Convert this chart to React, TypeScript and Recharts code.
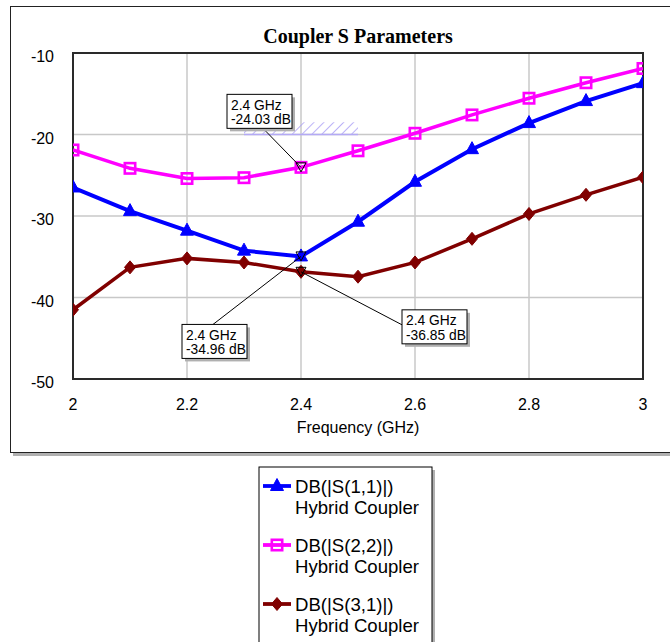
import React from 'react';
import {
  LineChart,
  Line,
  XAxis,
  YAxis,
  CartesianGrid,
  ReferenceArea,
  ReferenceDot,
  ReferenceLine,
} from 'recharts';

// Frequency sweep (GHz)
const frequencies = [2.0, 2.1, 2.2, 2.3, 2.4, 2.5, 2.6, 2.7, 2.8, 2.9, 3.0];

// Magnitudes in dB
const s11 = [-26.5, -29.4, -31.8, -34.25, -34.96, -30.7, -25.8, -21.8, -18.6, -15.9, -13.7];
const s22 = [-21.9, -24.15, -25.4, -25.3, -24.03, -22.0, -19.85, -17.6, -15.55, -13.65, -11.9];
const s31 = [-41.5, -36.3, -35.2, -35.7, -36.85, -37.45, -35.7, -32.8, -29.75, -27.4, -25.25];

const xTicks = [2, 2.2, 2.4, 2.6, 2.8, 3];
const yTicks = [-50, -40, -30, -20, -10];

// Marker readouts at 2.4 GHz
const markerFreq = 2.4;
const markerS22 = -24.03;
const markerS11 = -34.96;
const markerS31 = -36.85;

// Return-loss goal mask
const maskStart = 2.3;
const maskEnd = 2.5;
const maskLevel = -20;
const maskTop = -18.5;

const FONT = '"Liberation Sans", Arial, Helvetica, sans-serif';
const SERIF = '"Liberation Serif", "Times New Roman", serif';

const data = frequencies.map((f, i) => ({ freq: f, s11: s11[i], s22: s22[i], s31: s31[i] }));

type Shape = 'triangle' | 'square' | 'diamond';

const series: { key: string; name: string; sub: string; color: string; shape: Shape; width: number }[] = [
  { key: 's11', name: 'DB(|S(1,1)|)', sub: 'Hybrid Coupler', color: '#0000ff', shape: 'triangle', width: 4 },
  { key: 's22', name: 'DB(|S(2,2)|)', sub: 'Hybrid Coupler', color: '#ff00ff', shape: 'square', width: 3.5 },
  { key: 's31', name: 'DB(|S(3,1)|)', sub: 'Hybrid Coupler', color: '#800000', shape: 'diamond', width: 3.5 },
];

function markerPath(shape: Shape, cx: number, cy: number, color: string, key?: React.Key) {
  if (shape === 'triangle') {
    return (
      <path key={key} d={`M${cx},${cy - 7.5} L${cx + 6.5},${cy + 4.5} L${cx - 6.5},${cy + 4.5} Z`} fill={color} stroke={color} strokeWidth={1} />
    );
  }
  if (shape === 'square') {
    return <rect key={key} x={cx - 5.2} y={cy - 5.2} width={10.4} height={10.4} fill="none" stroke={color} strokeWidth={2.6} />;
  }
  return (
    <path key={key} d={`M${cx},${cy - 6.5} L${cx + 5.5},${cy} L${cx},${cy + 6.5} L${cx - 5.5},${cy} Z`} fill={color} stroke={color} strokeWidth={1} />
  );
}

const makeDot = (shape: Shape, color: string) => (p: any) => {
  if (p.cx == null || p.cy == null) return <g key={`e-${p.index}`} />;
  return markerPath(shape, p.cx, p.cy, color, `d-${p.index}`);
};

const fmtFreq = (v: number) => String(Math.round(v * 10) / 10);

const XTick = (p: any) => (
  <text x={p.x} y={p.y + 31} textAnchor="middle" fontSize={16} fontFamily={FONT} fill="#000">
    {fmtFreq(p.payload.value)}
  </text>
);

const YTick = (p: any) => (
  <text x={p.x - 19} y={p.y + 9} textAnchor="end" fontSize={16} fontFamily={FONT} fill="#000">
    {p.payload.value}
  </text>
);

type Anchor = 'bottom' | 'top' | 'left';

const makeCallout = (freq: number, value: number, dx: number, dy: number, anchor: Anchor, anchorOffset: number) => (p: any) => {
  const { cx, cy } = p;
  if (cx == null || cy == null) return <g />;
  const bw = 65;
  const bh = 34;
  const bx = cx + dx;
  const by = cy + dy;
  let ax = bx + anchorOffset;
  let ay = by + bh;
  if (anchor === 'top') {
    ay = by;
  } else if (anchor === 'left') {
    ax = bx;
    ay = by + anchorOffset;
  }
  return (
    <g>
      <line x1={ax} y1={ay} x2={cx} y2={cy} stroke="#000" strokeWidth={1} />
      <path d={`M${cx - 5},${cy - 4.5} L${cx + 5},${cy - 4.5} L${cx},${cy + 4.5} Z`} fill="none" stroke="#000" strokeWidth={1} />
      <rect x={bx + 3} y={by + 3} width={bw} height={bh} fill="#b0b0b0" />
      <rect x={bx} y={by} width={bw} height={bh} fill="#fff" stroke="#000" strokeWidth={1} />
      <text x={bx + 4} y={by + 15.5} fontSize={13.8} fontFamily={FONT} fill="#000">
        {`${freq} GHz`}
      </text>
      <text x={bx + 4} y={by + 30} fontSize={13.8} fontFamily={FONT} fill="#000">
        {`${value.toFixed(2)} dB`}
      </text>
    </g>
  );
};

export default function App() {
  return (
    <div
      style={{
        position: 'absolute',
        left: 0,
        top: 0,
        width: 670,
        height: 642,
        overflow: 'hidden',
        background: '#fff',
        fontFamily: FONT,
      }}
    >
      <svg width={0} height={0} style={{ position: 'absolute' }}>
        <defs>
          <pattern id="maskHatch" patternUnits="userSpaceOnUse" width={7} height={7} patternTransform="rotate(45)">
            <line x1={0} y1={0} x2={0} y2={7} stroke="#a99ef5" strokeWidth={1.6} />
          </pattern>
        </defs>
      </svg>

      {/* graph frame */}
      <div
        style={{
          position: 'absolute',
          left: 10,
          top: 6,
          width: 700,
          height: 445,
          border: '1.5px solid #222',
          boxShadow: '3px 3px 0 #b0b0b0',
          background: '#fff',
        }}
      />

      <div style={{ position: 'absolute', left: 0, top: 0 }}>
        <LineChart width={670} height={460} data={data} margin={{ top: 53, right: 27, bottom: 51, left: 0 }}>
          <CartesianGrid stroke="#c8c8c8" strokeWidth={1.5} />
          <XAxis
            dataKey="freq"
            type="number"
            domain={[2, 3]}
            ticks={xTicks}
            interval={0}
            allowDataOverflow
            axisLine={false}
            tickLine={false}
            tickSize={0}
            tickMargin={0}
            height={30}
            tick={XTick}
          />
          <YAxis
            type="number"
            domain={[-50, -10]}
            ticks={yTicks}
            interval={0}
            allowDataOverflow
            axisLine={false}
            tickLine={false}
            tickSize={0}
            tickMargin={0}
            width={73}
            tick={YTick}
          />
          <ReferenceArea x1={maskStart} x2={maskEnd} y1={maskLevel} y2={maskTop} fill="url(#maskHatch)" fillOpacity={1} stroke="none" />
          <ReferenceLine
            segment={[
              { x: maskStart, y: maskLevel },
              { x: maskEnd, y: maskLevel },
            ]}
            stroke="#b4aaf5"
            strokeWidth={1.5}
          />
          {series.map((s) => (
            <Line
              key={s.key}
              dataKey={s.key}
              name={s.name}
              type="linear"
              stroke={s.color}
              strokeWidth={s.width}
              dot={makeDot(s.shape, s.color)}
              activeDot={false}
              isAnimationActive={false}
            />
          ))}
          <ReferenceArea x1={2} x2={3} y1={-50} y2={-10} fill="none" fillOpacity={0} stroke="#2a2a2a" strokeWidth={2} />
          <ReferenceDot x={markerFreq} y={markerS22} r={5} shape={makeCallout(markerFreq, markerS22, -74, -73, 'bottom', 36)} />
          <ReferenceDot x={markerFreq} y={markerS11} r={5} shape={makeCallout(markerFreq, markerS11, -119, 68, 'top', 31)} />
          <ReferenceDot x={markerFreq} y={markerS31} r={5} shape={makeCallout(markerFreq, markerS31, 101, 38, 'left', 15)} />
        </LineChart>
      </div>

      {/* title, axis caption and legend */}
      <svg width={670} height={642} style={{ position: 'absolute', left: 0, top: 0, pointerEvents: 'none' }}>
        <text x={358} y={43} textAnchor="middle" fontSize={20} fontWeight="bold" fontFamily={SERIF} fill="#000">
          Coupler S Parameters
        </text>
        <text x={358} y={433} textAnchor="middle" fontSize={16} fontFamily={FONT} fill="#000">
          Frequency (GHz)
        </text>

        <rect x={262} y={470} width={173} height={200} fill="#b0b0b0" />
        <rect x={259} y={467} width={173} height={200} fill="#fff" stroke="#000" strokeWidth={1} />
        {series.map((s, i) => {
          const base = 493 + i * 59;
          const cy = base - 7;
          return (
            <g key={s.key}>
              <line x1={263} y1={cy} x2={291} y2={cy} stroke={s.color} strokeWidth={3.8} />
              {markerPath(s.shape, 277, cy, s.color)}
              <text x={295} y={base} fontSize={18.6} fontFamily={FONT} fill="#000">
                {s.name}
              </text>
              <text x={295} y={base + 20.5} fontSize={18.6} fontFamily={FONT} fill="#000">
                {s.sub}
              </text>
            </g>
          );
        })}
      </svg>
    </div>
  );
}
